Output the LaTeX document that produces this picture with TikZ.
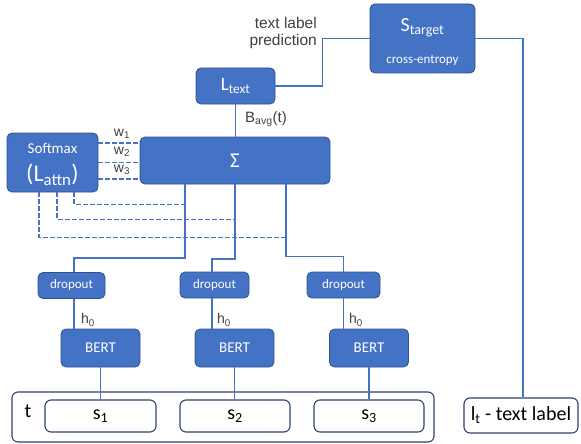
\documentclass[tikz,border=0pt]{standalone}
\usepackage{fontspec}
\setmainfont{Carlito}
\newfontfamily\arialf{Liberation Sans}
\definecolor{boxblue}{HTML}{4472C4}
\definecolor{boxedge}{HTML}{2F528F}
\definecolor{lineblue}{HTML}{4472C4}
\definecolor{labgray}{HTML}{404040}
\definecolor{outline}{HTML}{2F4170}
\newcommand\fs[1]{\fontsize{#1}{#1}\selectfont}
\begin{document}
\begin{tikzpicture}[x=1pt,y=-1pt,
  bbox/.style={draw=boxedge, fill=boxblue, rounded corners=5pt, text=white, inner sep=0pt, line width=0.8pt},
  wbox/.style={draw=outline, fill=white, rounded corners=6pt, inner sep=0pt, line width=1.1pt},
  wtxt/.style={text=white, inner sep=0pt},
  conn/.style={draw=lineblue, line width=1.3pt},
  dconn/.style={conn, dash pattern=on 5pt off 2pt},
  lab/.style={text=labgray, font=\arialf\fs{15}, inner sep=0pt}]
\useasboundingbox (0,0) rectangle (581,444);

% top boxes
\node[bbox, minimum width=105pt, minimum height=69pt] (starget) at (422.5,38.5) {};
\node[wtxt] (sttxt) at (422.5,28) {\fs{20}S\textsubscript{target}};
\node[wtxt] (cetxt) at (422.5,60) {\fs{13}cross-entropy};
\node[lab, align=right, anchor=east, font=\arialf\fontsize{15.5}{17}\selectfont] (tlp) at (317,33) {text label\\prediction};

\node[bbox, minimum width=79pt, minimum height=36pt] (ltext) at (235.5,86) {\fs{19}L\textsubscript{text}};
\node[lab, anchor=west] (bavg) at (245,119) {B\textsubscript{avg}(t)};

\node[bbox, minimum width=190pt, minimum height=47pt] (sigma) at (235,160.5) {\fs{21}Σ};
\node[bbox, minimum width=91pt, minimum height=59pt] (softmax) at (52.5,162.5) {};
\node[wtxt] (smtxt) at (52.5,148) {\fs{15}Softmax};
\node[wtxt] (latxt) at (52.5,175) {\fs{24}(L\textsubscript{attn})};

\node[lab, font=\arialf\fs{14}] (w1) at (122,134) {w\textsubscript{1}};
\node[lab, font=\arialf\fs{14}] (w2) at (122,152) {w\textsubscript{2}};
\node[lab, font=\arialf\fs{14}] (w3) at (122,170) {w\textsubscript{3}};

% dropout and BERT
\node[bbox, minimum width=67pt, minimum height=26pt] (drop1) at (71.5,285.5) {\fs{13}dropout};
\node[bbox, minimum width=69pt, minimum height=26pt] (drop2) at (214.5,285) {\fs{13}dropout};
\node[bbox, minimum width=73pt, minimum height=26pt] (drop3) at (343.5,285) {\fs{13}dropout};

\node[bbox, minimum width=79pt, minimum height=38pt] (bert1) at (100.5,348) {\fs{15}BERT};
\node[bbox, minimum width=79pt, minimum height=38pt] (bert2) at (234.5,348) {\fs{15}BERT};
\node[bbox, minimum width=79pt, minimum height=38pt] (bert3) at (369,348) {\fs{15}BERT};

\node[lab, font=\arialf\fs{14}] (h1) at (88,320) {h\textsubscript{0}};
\node[lab, font=\arialf\fs{14}] (h2) at (224,320) {h\textsubscript{0}};
\node[lab, font=\arialf\fs{14}] (h3) at (356,320) {h\textsubscript{0}};

% bottom
\node[wbox, minimum width=422pt, minimum height=50pt] (tbox) at (223,417) {};
\node[inner sep=0pt] (tlab) at (28,411) {\fs{20}t};
\node[wbox, minimum width=111pt, minimum height=32pt] (s1) at (100.5,416) {\fs{20}s\textsubscript{1}};
\node[wbox, minimum width=110pt, minimum height=32pt] (s2) at (235,416) {\fs{20}s\textsubscript{2}};
\node[wbox, minimum width=110pt, minimum height=32pt] (s3) at (369,416) {\fs{20}s\textsubscript{3}};
\node[wbox, minimum width=114pt, minimum height=35pt] (lt) at (521,415.5) {\fs{20}l\textsubscript{t} - text label};

% connectors top
\draw[conn] (ltext.east) -- ++(47,0) |- (starget.west);
\draw[conn] (starget.east) -| ([xshift=2pt]lt.north);
\draw[conn] (ltext.south) -- (ltext.south |- sigma.north);

% w lines
\draw[dconn] ([yshift=19.5pt]softmax.east) -- ([yshift=19.5pt]softmax.east -| sigma.west);
\draw[dconn] (softmax.east) -- (softmax.east -| sigma.west);
\draw[dconn] ([yshift=-16.5pt]softmax.east) -- ([yshift=-16.5pt]softmax.east -| sigma.west);

% sigma to dropouts
\coordinate (v1) at ([xshift=-50pt]sigma.south);
\coordinate (v2) at (sigma.south);
\coordinate (v3) at ([xshift=51pt]sigma.south);
\draw[conn] (v1) -- ++(0,73.5) -| ([xshift=2.5pt]drop1.north);
\draw[conn] (v2) -- ++(0,74.5) -| ([xshift=-2.5pt]drop2.north);
\draw[conn] (v3) -- ++(0,72) -| (drop3.north);

% dashed attention lines
\draw[dconn] ([xshift=21.5pt]softmax.south) |- ([yshift=-20pt]v1);
\draw[dconn] ([xshift=4.5pt]softmax.south) |- ([yshift=-35pt]v2);
\draw[dconn] ([xshift=-13.5pt]softmax.south) |- ([yshift=-53pt]v3);

% dropout to BERT
\coordinate (x1) at ([xshift=2.5pt]drop1.south);
\coordinate (x2) at ([xshift=-2.5pt]drop2.south);
\coordinate (x3) at (drop3.south);
\draw[conn] (x1) -- (x1 |- bert1.north);
\draw[conn] (x2) -- (x2 |- bert2.north);
\draw[conn] (x3) -- (x3 |- bert3.north);

% BERT to sentences
\draw[conn] (bert1.south) -- (bert1.south |- s1.north);
\draw[conn] (bert2.south) -- (bert2.south |- s2.north);
\draw[conn] (bert3.south) -- (bert3.south |- s3.north);
\end{tikzpicture}
\end{document}
